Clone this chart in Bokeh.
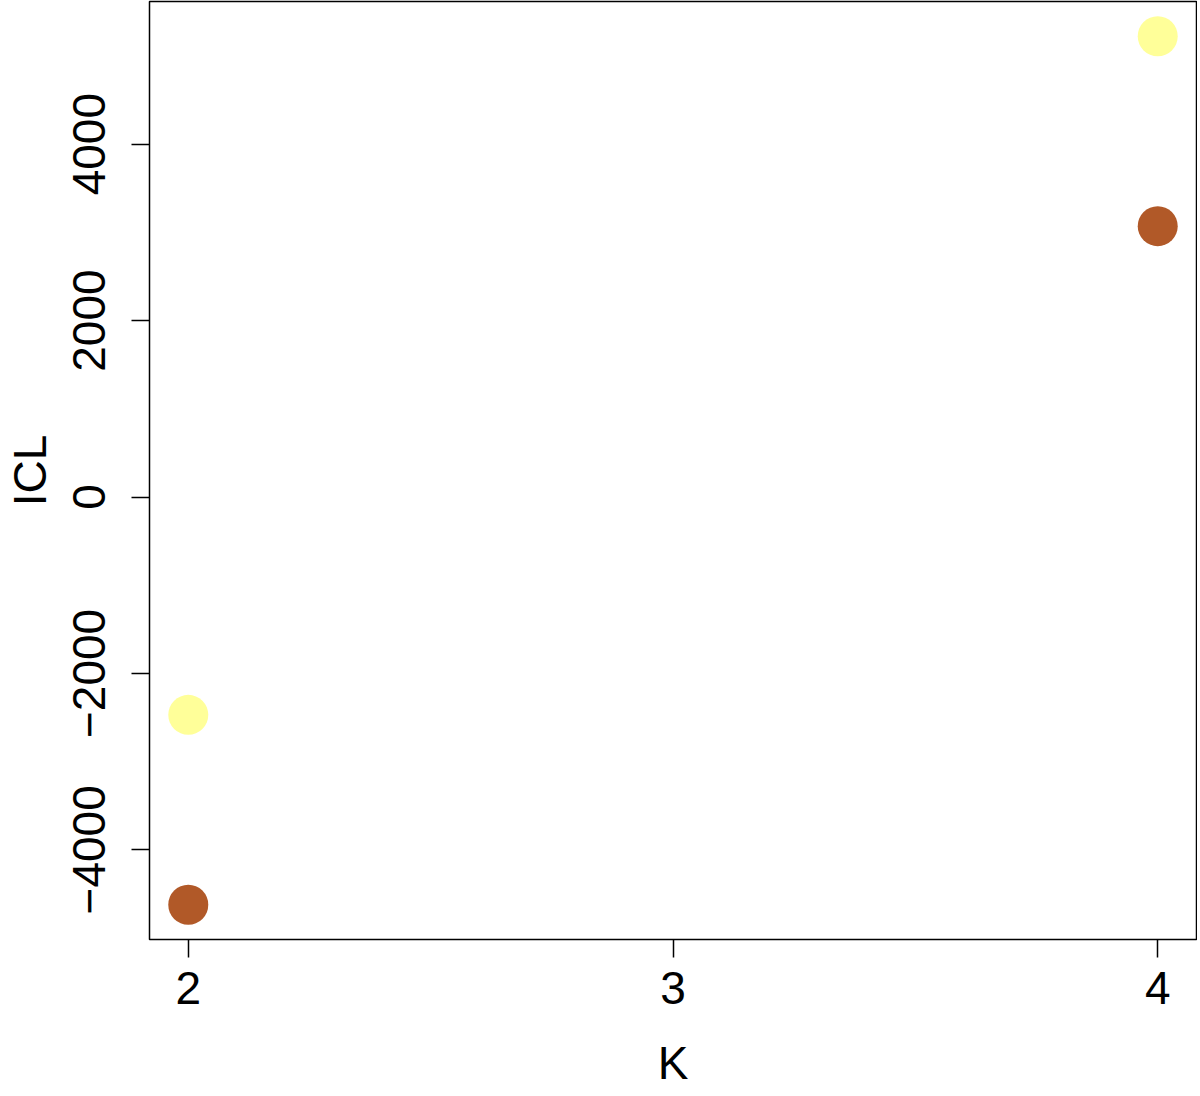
from bokeh.plotting import figure
from bokeh.models import Range1d, FixedTicker, ColumnDataSource
from bokeh.embed import file_html
from bokeh.resources import INLINE

K = [2, 2, 4, 4]
ICL = [-2470, -4623, 5224, 3071]
colors = ["#FFFF99", "#B15928", "#FFFF99", "#B15928"]
x_ticks = [2, 3, 4]
y_ticks = [-4000, -2000, 0, 2000, 4000]

src = ColumnDataSource(dict(x=K, y=ICL, c=colors))

ymin, ymax = min(ICL), max(ICL)
yr = (ymax - ymin) * 0.04
p = figure(width=1197, height=1093, output_backend="svg", toolbar_location=None,
           x_range=Range1d(1.92, 4.08), y_range=Range1d(ymin - yr, ymax + yr),
           min_border_left=149, min_border_right=1, min_border_top=1, min_border_bottom=154)

p.scatter("x", "y", source=src, size=40, fill_color="c", line_color=None)

p.grid.visible = False
p.outline_line_color = "black"
p.outline_line_width = 1.5
p.background_fill_color = "white"

font = "Liberation Sans"
for ax in (p.xaxis[0], p.yaxis[0]):
    ax.axis_line_color = None
    ax.major_tick_line_color = "black"
    ax.major_tick_line_width = 1.5
    ax.major_tick_in = 0
    ax.major_tick_out = 18
    ax.minor_tick_line_color = None
    ax.major_label_text_font = font
    ax.major_label_text_font_size = "46px"
    ax.major_label_text_color = "black"
    ax.axis_label_text_font = font
    ax.axis_label_text_font_size = "46px"
    ax.axis_label_text_font_style = "normal"
    ax.axis_label_text_color = "black"

p.xaxis[0].ticker = FixedTicker(ticks=x_ticks)
p.yaxis[0].ticker = FixedTicker(ticks=y_ticks)
p.xaxis[0].axis_label = "K"
p.yaxis[0].axis_label = "ICL"
p.yaxis[0].major_label_orientation = "vertical"
p.xaxis[0].major_label_standoff = 14
p.yaxis[0].major_label_standoff = 26
p.xaxis[0].axis_label_standoff = 30
p.yaxis[0].axis_label_standoff = 15
p.yaxis[0].formatter.use_scientific = False

open("out.html", "w").write(file_html(p, INLINE))
